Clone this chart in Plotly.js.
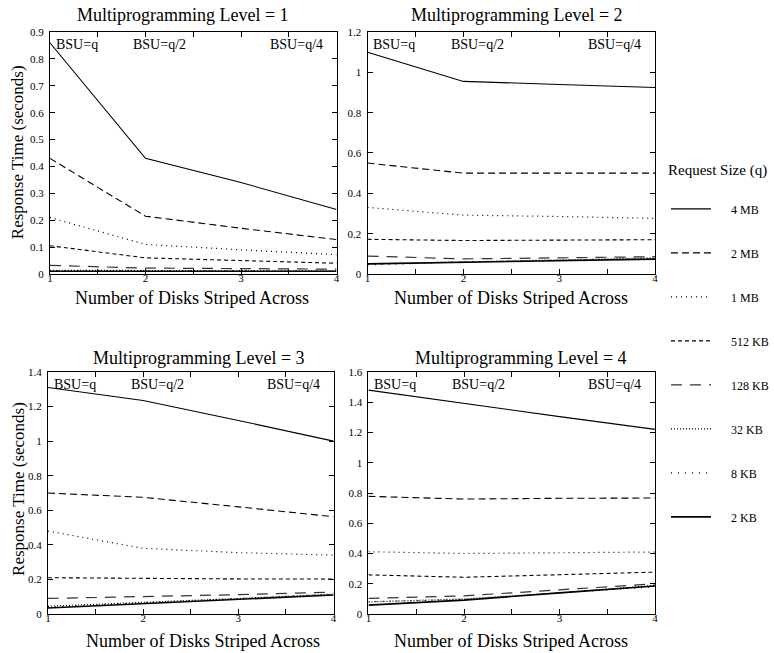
<!DOCTYPE html>
<html>
<head>
<meta charset="utf-8">
<script src="https://cdn.plot.ly/plotly-3.0.1.min.js"></script>
<style>html,body{margin:0;padding:0;background:#fff;}#chart{width:774px;height:653px;}</style>
</head>
<body>
<div id="chart"></div>
<script>
// ---- data ----
const disks = [1, 2, 3, 4];
const requestSizes = ['4 MB', '2 MB', '1 MB', '512 KB', '128 KB', '32 KB', '8 KB', '2 KB'];
const panelTitles = ['Multiprogramming Level = 1', 'Multiprogramming Level = 2',
                     'Multiprogramming Level = 3', 'Multiprogramming Level = 4'];
const bsuLabels = ['BSU=q', 'BSU=q/2', 'BSU=q/4'];
const xTitle = 'Number of Disks Striped Across';
const yTitle = 'Response Time (seconds)';
const legendTitle = 'Request Size (q)';

// response times (seconds), one row per request size, columns = disks 1..4
const mpl1 = [
  [0.86, 0.43, 0.34, 0.24],
  [0.43, 0.215, 0.17, 0.128],
  [0.21, 0.11, 0.09, 0.072],
  [0.105, 0.06, 0.05, 0.04],
  [0.032, 0.022, 0.02, 0.018],
  [0.014, 0.012, 0.012, 0.012],
  [0.012, 0.011, 0.011, 0.011],
  [0.01, 0.01, 0.01, 0.01]
];
const mpl2 = [
  [1.1, 0.955, 0.94, 0.925],
  [0.55, 0.5, 0.5, 0.5],
  [0.33, 0.292, 0.285, 0.276],
  [0.172, 0.166, 0.168, 0.17],
  [0.089, 0.075, 0.08, 0.086],
  [0.05, 0.06, 0.07, 0.08],
  [0.045, 0.06, 0.068, 0.076],
  [0.05, 0.058, 0.065, 0.074]
];
const mpl3 = [
  [1.31, 1.235, 1.12, 1.0],
  [0.7, 0.675, 0.62, 0.563],
  [0.48, 0.38, 0.355, 0.341],
  [0.21, 0.205, 0.203, 0.202],
  [0.09, 0.1, 0.112, 0.127],
  [0.045, 0.066, 0.09, 0.115],
  [0.04, 0.064, 0.088, 0.114],
  [0.035, 0.06, 0.085, 0.11]
];
const mpl4 = [
  [1.48, 1.39, 1.305, 1.221],
  [0.778, 0.76, 0.765, 0.767],
  [0.412, 0.4, 0.405, 0.41],
  [0.259, 0.243, 0.26, 0.277],
  [0.103, 0.12, 0.16, 0.2],
  [0.08, 0.1, 0.14, 0.19],
  [0.081, 0.095, 0.14, 0.18],
  [0.059, 0.092, 0.14, 0.185]
];
const yMax = [0.9, 1.2, 1.4, 1.6];
const yStep = [0.1, 0.2, 0.2, 0.2];

// ---- styles ----
const FONT = "'Liberation Serif', 'Times New Roman', serif";
const lineStyles = [
  {dash: 'solid', color: '#000', width: 1.1},
  {dash: '7px,4px', color: '#000', width: 1.1},
  {dash: '1px,4px', color: '#000', width: 1.2},
  {dash: '4px,3px', color: '#000', width: 1.1},
  {dash: '11px,8px', color: '#333', width: 1.2},
  {dash: '1px,2px', color: '#000', width: 1.2},
  {dash: '1px,6px', color: '#000', width: 1.2},
  {dash: 'solid', color: '#000', width: 1.6}
];

const panels = [mpl1, mpl2, mpl3, mpl4];
const traces = [];
panels.forEach((panel, p) => {
  panel.forEach((vals, s) => {
    traces.push({
      type: 'scatter', mode: 'lines',
      x: disks, y: vals,
      name: '\u00a0\u00a0\u00a0\u00a0\u00a0' + requestSizes[s],
      legendgroup: 'g' + s,
      showlegend: p === 0,
      line: lineStyles[s],
      xaxis: p === 0 ? 'x' : 'x' + (p + 1),
      yaxis: p === 0 ? 'y' : 'y' + (p + 1),
      hoverinfo: 'skip'
    });
  });
});

// plot area domains (paper fractions)
const xDom = [[0.0646, 0.4354], [0.4755, 0.8475], [0.062, 0.4315], [0.4767, 0.8475]];
const yDom = [[0.5804, 0.951], [0.5804, 0.951], [0.0597, 0.4303], [0.0597, 0.4303]];

const layout = {
  width: 774, height: 653,
  margin: {l: 0, r: 0, t: 0, b: 0},
  paper_bgcolor: '#fff', plot_bgcolor: '#fff',
  font: {family: FONT, color: '#000', size: 11},
  showlegend: true,
  legend: {
    x: 0.862, xanchor: 'left', y: 0.762, yanchor: 'top',
    traceorder: 'grouped', tracegroupgap: 25,
    itemwidth: 40,
    font: {family: FONT, size: 12, color: '#000'},
    title: {text: legendTitle + '<br> ', font: {family: FONT, size: 15, color: '#000'}},
    bgcolor: 'rgba(0,0,0,0)'
  },
  annotations: []
};

const titleX = [0.237, 0.669, 0.258, 0.674];
const titleY = [0.977, 0.977, 0.452, 0.452];
const xTitleX = [0.248, 0.6615, 0.262, 0.6615];
const xTitleY = [0.543, 0.543, 0.019, 0.019];

for (let p = 0; p < 4; p++) {
  const xs = p === 0 ? '' : String(p + 1);
  layout['xaxis' + xs] = {
    domain: xDom[p], anchor: 'y' + xs, range: [1, 4],
    tickvals: disks, ticktext: disks.map(String),
    ticks: 'inside', ticklen: 5, tickcolor: '#000',
    minor: {dtick: 0.5, tick0: 1, ticks: 'inside', ticklen: 5, tickcolor: '#000'},
    showline: true, linecolor: '#000', linewidth: 1, mirror: 'ticks',
    showgrid: false, zeroline: false, ticklabelstandoff: -6,
    tickfont: {family: FONT, size: 11, color: '#000'}
  };
  layout['yaxis' + xs] = {
    domain: yDom[p], anchor: 'x' + xs, range: [0, yMax[p]],
    dtick: yStep[p], tick0: 0,
    ticks: 'inside', ticklen: 5, tickcolor: '#000',
    showline: true, linecolor: '#000', linewidth: 1, mirror: 'ticks',
    showgrid: false, zeroline: false, ticklabelstandoff: 3,
    tickfont: {family: FONT, size: 11, color: '#000'}
  };
  // panel title
  layout.annotations.push({
    text: panelTitles[p], xref: 'paper', yref: 'paper', x: titleX[p], y: titleY[p],
    xanchor: 'center', yanchor: 'middle', showarrow: false,
    font: {family: FONT, size: 18, color: '#000'}
  });
  // x axis title
  layout.annotations.push({
    text: xTitle, xref: 'paper', yref: 'paper', x: xTitleX[p], y: xTitleY[p],
    xanchor: 'center', yanchor: 'middle', showarrow: false,
    font: {family: FONT, size: 18, color: '#000'}
  });
  // BSU labels
  const bx = [1.04, 2.15, 3.58];
  const anchors = ['left', 'center', 'center'];
  bsuLabels.forEach((t, i) => {
    layout.annotations.push({
      text: t, xref: 'x' + xs, yref: 'y' + xs + ' domain', x: bx[i], y: 0.95,
      xanchor: anchors[i], yanchor: 'middle', showarrow: false,
      font: {family: FONT, size: 14, color: '#000'}
    });
  });
}
// y axis titles (left panels)
[[0.022, 0.767], [0.023, 0.251]].forEach(([x, y]) => {
  layout.annotations.push({
    text: yTitle, xref: 'paper', yref: 'paper', x: x, y: y, textangle: -90,
    xanchor: 'center', yanchor: 'middle', showarrow: false,
    font: {family: FONT, size: 17, color: '#000'}
  });
});

Plotly.newPlot('chart', traces, layout, {staticPlot: true, displayModeBar: false});
</script>
</body>
</html>
